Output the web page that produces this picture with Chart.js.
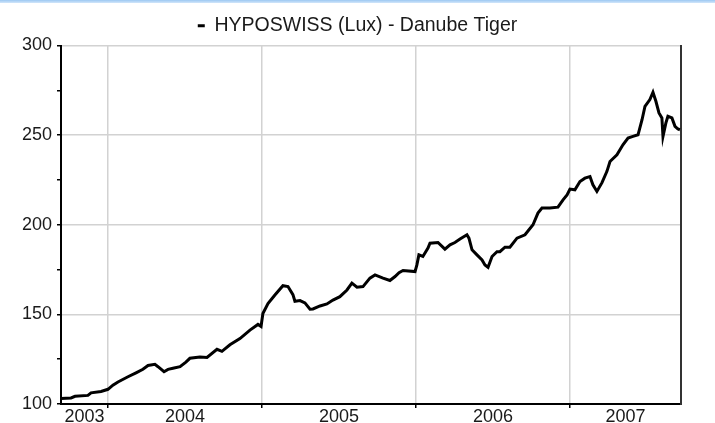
<!DOCTYPE html>
<html>
<head>
<meta charset="utf-8">
<script src="https://cdn.jsdelivr.net/npm/chart.js@4.4.0/dist/chart.umd.min.js"></script>
<style>
  html, body { margin: 0; padding: 0; background: #fff; }
  #wrap { position: relative; width: 715px; height: 423px; }
  #topbar { position: absolute; left: 0; top: 0; width: 715px; height: 3px;
            background: linear-gradient(#9cc8f2, #d2e6fa); z-index: 2; }
  canvas { position: absolute; left: 0; top: 0; }
</style>
</head>
<body>
<div id="wrap">
  <div id="topbar"></div>
  <canvas id="fundChart" width="715" height="423"></canvas>
</div>
<script>
// Fund price series (decimal year, value)
const seriesName = 'HYPOSWISS (Lux) - Danube Tiger';

const dates = [
  2003.695, 2003.760, 2003.786, 2003.870, 2003.890, 2003.955, 2004.000, 2004.032,
  2004.065, 2004.130, 2004.182, 2004.227, 2004.260, 2004.305, 2004.325, 2004.364,
  2004.390, 2004.422, 2004.468, 2004.506, 2004.532, 2004.597, 2004.643, 2004.708,
  2004.740, 2004.792, 2004.857, 2004.922, 2004.974, 2004.994, 2005.006, 2005.039,
  2005.084, 2005.136, 2005.169, 2005.201, 2005.214, 2005.247, 2005.279, 2005.312,
  2005.331, 2005.377, 2005.422, 2005.461, 2005.506, 2005.552, 2005.584, 2005.617,
  2005.656, 2005.701, 2005.734, 2005.786, 2005.831, 2005.864, 2005.890, 2005.916,
  2005.994, 2006.006, 2006.019, 2006.045, 2006.078, 2006.091, 2006.143, 2006.188,
  2006.221, 2006.253, 2006.286, 2006.331, 2006.344, 2006.364, 2006.396, 2006.429,
  2006.448, 2006.468, 2006.494, 2006.526, 2006.545, 2006.578, 2006.610, 2006.656,
  2006.708, 2006.760, 2006.792, 2006.818, 2006.870, 2006.922, 2006.955, 2006.981,
  2007.000, 2007.032, 2007.065, 2007.097, 2007.130, 2007.149, 2007.175, 2007.208,
  2007.240, 2007.260, 2007.305, 2007.344, 2007.377, 2007.409, 2007.442, 2007.468,
  2007.487, 2007.519, 2007.539, 2007.558, 2007.578, 2007.597, 2007.604, 2007.623,
  2007.636, 2007.662, 2007.682, 2007.701, 2007.714
];

const prices = [
  103.0, 103.4, 104.3, 104.8, 106.2, 107.0, 108.2, 110.5,
  112.3, 115.2, 117.4, 119.4, 121.5, 122.1, 120.8, 118.0,
  119.3, 119.9, 120.8, 123.4, 125.5, 126.2, 126.0, 130.5,
  129.4, 133.0, 136.5, 141.2, 144.4, 143.3, 150.5, 156.0,
  160.8, 166.0, 165.5, 161.0, 157.3, 157.7, 156.4, 152.9,
  153.0, 154.7, 155.8, 158.0, 159.9, 163.6, 167.4, 165.2,
  165.5, 170.2, 172.0, 170.2, 168.9, 171.1, 173.3, 174.5,
  173.9, 177.6, 183.2, 182.3, 187.0, 189.7, 190.1, 186.4,
  188.8, 190.1, 192.0, 194.4, 192.5, 186.0, 183.2, 180.4,
  177.6, 176.3, 182.3, 185.0, 185.0, 187.5, 187.5, 192.5,
  194.4, 200.0, 206.5, 209.3, 209.3, 209.8, 213.9, 216.7,
  219.9, 219.5, 224.1, 226.0, 226.9, 222.3, 218.6, 223.5,
  229.8, 235.3, 239.0, 244.6, 248.4, 249.3, 250.2, 258.6,
  266.0, 269.8, 273.9, 268.9, 262.4, 259.6, 249.3, 256.8,
  260.5, 259.6, 254.9, 253.4, 253.0
];

// Axis setup
const xMin = 2003.695;
const xMax = 2007.721;
const yearBounds = [2004, 2005, 2006, 2007];
const yearLabels = ['2003', '2004', '2005', '2006', '2007'];
const yMin = 100;
const yMax = 300;

const gridColor = '#d2d2d2';
const textColor = '#1a1a1a';
const fontFamily = '"Liberation Sans", Arial, sans-serif';

// label positions: middle of each visible year span
function yearMids() {
  const edges = [xMin].concat(yearBounds, [xMax]);
  const mids = [];
  for (let i = 0; i < edges.length - 1; i++) {
    mids.push((edges[i] + edges[i + 1]) / 2);
  }
  return mids;
}

const isBound = v => yearBounds.some(b => Math.abs(b - v) < 1e-6);

const ctx = document.getElementById('fundChart').getContext('2d');
new Chart(ctx, {
  type: 'line',
  data: {
    datasets: [{
      label: seriesName,
      data: dates.map((d, i) => ({ x: d, y: prices[i] })),
      borderColor: '#000',
      backgroundColor: '#000',
      borderWidth: 3,
      pointRadius: 0,
      tension: 0,
      fill: false
    }]
  },
  options: {
    responsive: false,
    animation: false,
    devicePixelRatio: 1,
    plugins: {
      tooltip: { enabled: false },
      legend: {
        display: true,
        position: 'top',
        labels: {
          boxWidth: 7,
          boxHeight: 3,
          padding: 16,
          color: textColor,
          font: { family: fontFamily, size: 19.5 },
          generateLabels: chart =>
            Chart.defaults.plugins.legend.labels.generateLabels(chart)
              .map(item => Object.assign(item, { lineWidth: 0 }))
        }
      }
    },
    scales: {
      x: {
        type: 'linear',
        min: xMin,
        max: xMax,
        afterFit: s => { s.height = 19; },
        afterBuildTicks: s => {
          const vals = yearBounds.concat(yearMids()).sort((a, b) => a - b);
          s.ticks = vals.map(v => ({ value: v }));
        },
        border: { color: '#000', width: 2 },
        grid: {
          color: c => (c.tick && isBound(c.tick.value)) ? gridColor : 'rgba(0,0,0,0)',
          tickColor: c => (c.tick && isBound(c.tick.value)) ? '#000' : 'rgba(0,0,0,0)',
          lineWidth: 1.5,
          tickWidth: 1.5,
          tickLength: 4
        },
        ticks: {
          autoSkip: false,
          maxRotation: 0,
          padding: -2,
          color: textColor,
          font: { family: fontFamily, size: 18 },
          callback: (v) => {
            if (isBound(v)) return '';
            const i = yearMids().findIndex(m => Math.abs(m - v) < 1e-6);
            return i >= 0 ? yearLabels[i] : '';
          }
        }
      },
      y: {
        min: yMin,
        max: yMax,
        afterFit: s => { s.width = 61; },
        border: { color: '#000', width: 2 },
        grid: {
          color: c => (c.tick && c.tick.value % 50 === 0) ? gridColor : 'rgba(0,0,0,0)',
          tickColor: '#000',
          lineWidth: 1.5,
          tickLength: 4
        },
        ticks: {
          stepSize: 25,
          padding: 5,
          color: textColor,
          font: { family: fontFamily, size: 18 },
          callback: v => (v % 50 === 0 ? v : '')
        }
      },
      yRight: {
        position: 'right',
        afterFit: s => { s.width = 34; },
        border: { color: '#333', width: 2 },
        grid: { display: false, drawOnChartArea: false },
        ticks: { display: false }
      }
    }
  }
});
</script>
</body>
</html>
